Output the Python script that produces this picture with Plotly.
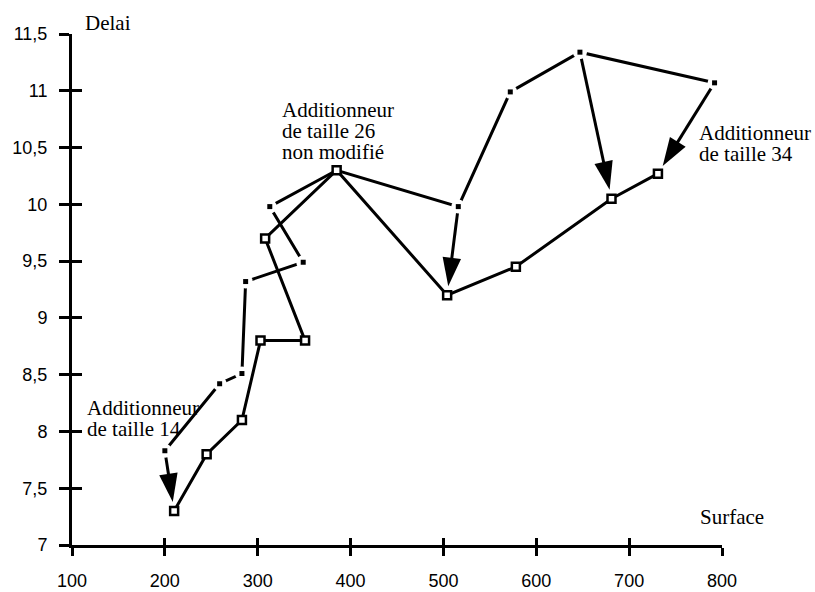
import plotly.graph_objects as go

# Additionneur modifié (squares)
surface_modifie = [210, 245, 283, 303, 351, 308, 385, 504, 578, 681, 731]
delai_modifie = [7.3, 7.8, 8.1, 8.8, 8.8, 9.7, 10.3, 9.2, 9.45, 10.05, 10.27]

# Additionneur non modifié (dots)
surface_origine = [200, 259, 283, 287, 349, 313, 385, 516, 572, 647, 792]
delai_origine = [7.83, 8.42, 8.51, 9.32, 9.49, 9.98, 10.3, 9.98, 10.99, 11.34, 11.07]

# arrows: from non modifié point i to modifié point i
fleches = [0, 7, 9, 10]

x_tickvals = [100, 200, 300, 400, 500, 600, 700, 800]
x_ticktext = ["100", "200", "300", "400", "500", "600", "700", "800"]
y_tickvals = [7, 7.5, 8, 8.5, 9, 9.5, 10, 10.5, 11, 11.5]
y_ticktext = ["7", "7,5", "8", "8,5", "9", "9,5", "10", "10,5", "11", "11,5"]

SERIF = "Liberation Serif, Times New Roman, serif"
SANS = "Liberation Sans, Arial, sans-serif"

fig = go.Figure()

# non modifié line
fig.add_trace(go.Scatter(x=surface_origine, y=delai_origine, mode="lines",
                         line=dict(color="black", width=3), hoverinfo="skip", showlegend=False))

# arrows
for i in fleches:
    fig.add_trace(go.Scatter(
        x=[surface_origine[i], surface_modifie[i]],
        y=[delai_origine[i], delai_modifie[i]],
        mode="lines+markers",
        line=dict(color="black", width=3),
        marker=dict(symbol="arrow", size=[0, 30], angleref="previous", standoff=9,
                    color="black", opacity=1, line=dict(width=0)),
        hoverinfo="skip", showlegend=False))

shared = [(x, y) in zip(surface_modifie, delai_modifie) for x, y in zip(surface_origine, delai_origine)]

# white halo around dots
fig.add_trace(go.Scatter(x=surface_origine, y=delai_origine, mode="markers",
                         marker=dict(symbol="circle", size=[0 if s else 14 for s in shared],
                                     color="white", opacity=1, line=dict(width=0)),
                         hoverinfo="skip", showlegend=False))
# black dots
fig.add_trace(go.Scatter(x=surface_origine, y=delai_origine, mode="markers",
                         marker=dict(symbol="square", size=[0 if s else 5 for s in shared],
                                     color="black", opacity=1, line=dict(width=0)),
                         hoverinfo="skip", showlegend=False))

# modifié line with squares
fig.add_trace(go.Scatter(x=surface_modifie, y=delai_modifie, mode="lines+markers",
                         line=dict(color="black", width=3),
                         marker=dict(symbol="square", size=8, color="white", opacity=1,
                                     line=dict(color="black", width=2.5)),
                         hoverinfo="skip", showlegend=False))

# dummy trace to bind overlay axes (inside ticks)
fig.add_trace(go.Scatter(x=[surface_modifie[0]], y=[delai_modifie[0]], mode="markers",
                         marker=dict(opacity=0), xaxis="x2", yaxis="y2",
                         hoverinfo="skip", showlegend=False))

xr = [x_tickvals[0], x_tickvals[-1]]
yr = [y_tickvals[0], y_tickvals[-1]]

fig.update_layout(
    width=815, height=592,
    margin=dict(l=72, r=93, t=34, b=47),
    paper_bgcolor="white", plot_bgcolor="white",
    showlegend=False,
    xaxis=dict(range=xr, showline=True, linecolor="black", linewidth=3,
               ticks="outside", ticklen=8, tickwidth=3, tickcolor="black",
               tickvals=x_tickvals, ticktext=x_ticktext,
               tickfont=dict(family=SANS, size=18, color="black"),
               ticklabelstandoff=9, automargin=False,
               showgrid=False, zeroline=False),
    yaxis=dict(range=yr, showline=True, linecolor="black", linewidth=3,
               ticks="outside", ticklen=10, tickwidth=3, tickcolor="black",
               tickvals=y_tickvals, ticktext=y_ticktext,
               tickfont=dict(family=SANS, size=18, color="black"),
               ticklabelstandoff=8, automargin=False,
               showgrid=False, zeroline=False),
    xaxis2=dict(range=xr, overlaying="x", anchor="y2", side="bottom",
                ticks="inside", ticklen=7, tickwidth=3, tickcolor="black",
                tickvals=x_tickvals, showticklabels=False, automargin=False,
                showline=False, showgrid=False, zeroline=False),
    yaxis2=dict(range=yr, overlaying="y", anchor="x2", side="left",
                ticks="inside", ticklen=10, tickwidth=3, tickcolor="black",
                tickvals=y_tickvals, showticklabels=False, automargin=False,
                showline=False, showgrid=False, zeroline=False),
)

font_lbl = dict(family=SERIF, size=21, color="black")
line_dy = 0.185  # ~21 px between text lines

def add_text(lines, x, y_first):
    for k, t in enumerate(lines):
        fig.add_annotation(x=x, y=y_first - k * line_dy, xref="x", yref="y", text=t,
                           showarrow=False, xanchor="left", yanchor="middle", font=font_lbl)

# axis title above the y axis (outside the range -> paper coordinates)
fig.add_annotation(x=112, y=(11.6 - yr[0]) / (yr[1] - yr[0]), xref="x", yref="paper",
                   text="Delai", showarrow=False, xanchor="left", yanchor="middle", font=font_lbl)
add_text(["Surface"], 774, 7.25)
add_text(["Additionneur", "de taille 14"], 114, 8.21)
add_text(["Additionneur", "de taille 26", "non modifié"], 324, 10.83)
add_text(["Additionneur", "de taille 34"], 773, 10.63)

fig.write_html("out.html",
               config={"displayModeBar": False},
               post_script="document.body.style.margin='0px';document.body.style.overflow='hidden';")
